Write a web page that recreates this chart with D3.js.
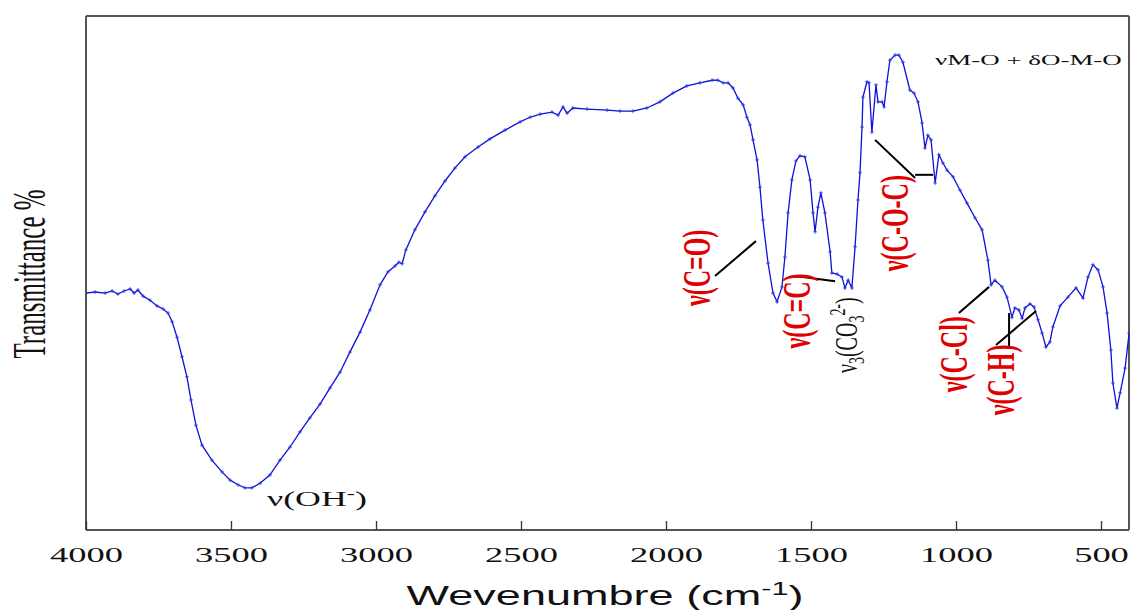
<!DOCTYPE html>
<html><head><meta charset="utf-8">
<script src="https://cdn.jsdelivr.net/npm/d3@7"></script>
<style>body{margin:0;background:#fff}svg{display:block}</style>
</head><body>
<svg id="c" width="1130" height="610"></svg>
<script>
// ---- data ----
const wavenumber = [4000,3969,3934,3910,3890,3869,3848,3834,3821,3803,3779,3755,3734,3717,3703,3686,3669,3652,3638,3621,3600,3566,3531,3503,3476,3452,3428,3400,3366,3331,3297,3262,3228,3193,3159,3124,3090,3055,3021,2986,2959,2934,2921,2910,2897,2866,2831,2797,2762,2728,2693,2648,2607,2555,2503,2469,2434,2393,2372,2355,2341,2321,2272,2203,2159,2114,2066,2021,1976,1928,1883,1841,1821,1803,1786,1769,1752,1734,1721,1710,1700,1686,1676,1666,1648,1631,1617,1600,1590,1579,1566,1552,1538,1521,1503,1493,1486,1476,1466,1452,1434,1428,1410,1393,1383,1372,1359,1348,1338,1331,1324,1321,1307,1300,1290,1276,1269,1255,1248,1238,1228,1210,1197,1183,1159,1145,1131,1117,1107,1097,1086,1072,1059,1045,1031,1010,986,962,934,910,890,879,866,841,824,807,797,783,772,762,745,731,717,703,690,676,666,641,614,586,562,545,528,510,493,479,466,459,445,434,417,403];
const transmittance = [46.1,46.3,46.1,46.5,45.9,46.5,46.9,46.1,46.7,45.5,44.7,43.6,43.0,42.2,40.5,37.5,33.7,29.8,25.3,20.4,16.5,13.6,11.3,9.7,8.8,8.2,8.2,9.1,10.7,13.6,16.1,19.1,21.8,24.5,27.6,30.7,34.6,38.5,42.8,47.7,50.2,51.4,52.1,51.8,54.5,58.4,61.9,65.0,67.9,70.4,72.6,74.5,76.1,77.8,79.4,80.3,80.9,81.3,80.7,82.3,81.1,82.1,81.9,81.7,81.5,81.5,82.1,83.3,85.0,86.4,87.0,87.5,87.5,87.0,87.0,86.0,84.0,82.7,80.3,78.8,75.9,72.0,66.7,60.3,51.9,46.1,44.4,47.3,53.1,61.7,68.1,71.8,72.8,72.6,68.1,61.7,58.0,62.8,65.6,61.7,54.1,50.0,49.8,49.2,47.1,48.6,47.1,55.1,64.2,69.5,78.4,84.2,87.2,87.0,77.4,86.6,83.3,83.3,82.3,87.2,91.4,92.4,92.4,91.0,85.6,85.0,83.3,79.2,74.3,76.8,75.9,67.5,73.0,71.4,70.0,68.7,66.1,63.6,60.7,58.4,52.5,47.7,48.6,47.3,45.3,41.4,43.2,42.8,41.2,43.2,44.0,43.4,40.9,38.3,35.6,36.6,39.5,43.6,45.3,47.1,45.1,49.2,51.6,50.6,47.3,42.2,35.0,28.6,23.7,26.7,31.5,38.3];
const majorTicks = [4000,3500,3000,2500,2000,1500,1000,500];
const minorTicks = [3900,3800,3700,3600,3400,3300,3200,3100,2900,2800,2700,2600,2400,2300,2200,2100,1900,1800,1700,1600,1400,1300,1200,1100,900,800,700,600];
const xTitle = "Wevenumbre (cm", xTitleSup = "-1", xTitleEnd = ")";
const yTitle = "Transmittance %";

// annotation labels (red, rotated): text, wavenumber at baseline, transmittance at centre
const bandLabels = [
  {t:"ν(C=O)", w:1848, T:51.0},
  {t:"ν(C=C)", w:1503, T:42.6},
  {t:"ν(C-O-C)", w:1166, T:59.7},
  {t:"ν(C-Cl)", w:962, T:34.2},
  {t:"ν(C-H)", w:800, T:29.2}
];
// leader lines: [w1,T1,w2,T2]
const leaders = [
  [1831,49.4,1690,56.2],
  [1555,49.4,1417,48.4],
  [1279,75.9,1141,68.5],
  [1141,69.1,1079,69.1],
  [990,42.2,886,47.3],
  [817,42.2,817,35.6],
  [862,36.0,724,42.6]
];

// ---- layout ----
const L=86, R=1129, T=16, B=530;
const svg = d3.select("#c");
const x = d3.scaleLinear().domain([4000,400]).range([L,1130]);
const y = d3.scaleLinear().domain([0,100]).range([B,T]);
const frame = "#555";
const serif = "'Liberation Serif','Times New Roman',serif";

function stretchX(sel, target){
  sel.each(function(){
    const w = this.getBBox().width;
    const s = target / w;
    const cur = d3.select(this).attr("transform") || "";
    d3.select(this).attr("transform", cur + ` scale(${s},1)`);
  });
}

// frame
svg.append("line").attr("x1",L).attr("x2",L).attr("y1",T).attr("y2",B).attr("stroke",frame).attr("stroke-width",2);
svg.append("line").attr("x1",L).attr("x2",R).attr("y1",T).attr("y2",T).attr("stroke",frame).attr("stroke-width",2);
svg.append("line").attr("x1",R).attr("x2",R).attr("y1",T).attr("y2",B).attr("stroke",frame).attr("stroke-width",2);

// x axis
const gx = svg.append("g").attr("transform",`translate(0,${B})`);
gx.call(d3.axisBottom(x).tickValues(minorTicks).tickSize(-4).tickFormat(""))
gx.call(d3.axisBottom(x).tickValues(majorTicks).tickSize(-9).tickPadding(16).tickFormat(d3.format("d")));
gx.selectAll(".domain").attr("stroke",frame).attr("stroke-width",2).attr("d",`M${L},0H${R}`);
gx.selectAll(".tick line").attr("stroke","#333").attr("stroke-width",1.3);
gx.selectAll(".tick text").attr("font-family",serif).attr("font-size",22).attr("fill","#111")
  .attr("transform","scale(1.66,1)");

// clip
svg.append("clipPath").attr("id","clip").append("rect").attr("x",L).attr("y",T).attr("width",1130-L).attr("height",B-T);

const data = wavenumber.map((w,i)=>[w,transmittance[i]]);
const line = d3.line().x(d=>x(d[0])).y(d=>y(d[1]));
const gc = svg.append("g").attr("clip-path","url(#clip)");
gc.append("path").datum(data).attr("d",line).attr("fill","none").attr("stroke","#1010d8").attr("stroke-width",1.3);
const cross = d3.symbol().type(d3.symbolCross).size(10);
gc.selectAll(".m").data(data).join("path").attr("class","m")
  .attr("transform",d=>`translate(${x(d[0])},${y(d[1])})`)
  .attr("d", d3.symbol().type({draw(ctx,size){ctx.moveTo(-2,0);ctx.lineTo(2,0);ctx.moveTo(0,-2);ctx.lineTo(0,2);}}).size(1))
  .attr("stroke","#2a3ae0").attr("stroke-width",0.8).attr("fill","none");

// leaders
svg.selectAll(".ld").data(leaders).join("line").attr("class","ld")
  .attr("x1",d=>x(d[0])).attr("y1",d=>y(d[1])).attr("x2",d=>x(d[2])).attr("y2",d=>y(d[3]))
  .attr("stroke","#000").attr("stroke-width",2);

// red labels
svg.selectAll(".bl").data(bandLabels).join("text").attr("class","bl")
  .attr("transform",d=>`translate(${x(d.w)},${y(d.T)}) rotate(-90) scale(1,1.7)`)
  .attr("text-anchor","middle").attr("font-family",serif).attr("font-weight","bold")
  .attr("font-size",24).attr("fill","#e00000").text(d=>d.t);

// carbonate label
const carb = svg.append("text").attr("transform",`translate(${x(1340)},${y(37.9)}) rotate(-90) scale(1,1.6)`)
  .attr("text-anchor","middle").attr("font-family",serif).attr("font-size",20).attr("fill","#111");
carb.append("tspan").text("ν");
carb.append("tspan").attr("font-size",14).attr("dy",4).text("3");
carb.append("tspan").attr("dy",-4).text("(CO");
carb.append("tspan").attr("font-size",14).attr("dy",4).text("3");
carb.append("tspan").attr("font-size",14).attr("dy",-12).text("2-");
carb.append("tspan").attr("dy",8).text(")");

// OH label
const oh = svg.append("text").attr("transform",`translate(${x(3376)},${y(4.7)})`)
  .attr("font-family",serif).attr("font-size",22).attr("fill","#111");
oh.append("tspan").text("ν(OH");
oh.append("tspan").attr("font-size",15).attr("dy",-8).text("-");
oh.append("tspan").attr("dy",8).text(")");
stretchX(oh,100);

// M-O label
const mo = svg.append("text").attr("transform",`translate(${x(1072)},${y(90.5)})`)
  .attr("font-family",serif).attr("font-size",15).attr("fill","#111").text("νM-O + δO-M-O");
stretchX(mo,187);

// axis titles
const xt = svg.append("text").attr("transform",`translate(605,605)`).attr("text-anchor","middle")
  .attr("font-family","'Liberation Sans',Arial,sans-serif").attr("font-size",28).attr("fill","#111");
xt.append("tspan").text(xTitle);
xt.append("tspan").attr("font-size",19).attr("dy",-10).text(xTitleSup);
xt.append("tspan").attr("dy",10).text(xTitleEnd);
stretchX(xt,397);

svg.append("text").attr("transform","translate(45,274) rotate(-90) scale(1,1.85)")
  .attr("text-anchor","middle").attr("font-family",serif).attr("font-size",25).attr("fill","#111").text(yTitle);
</script>
</body></html>
